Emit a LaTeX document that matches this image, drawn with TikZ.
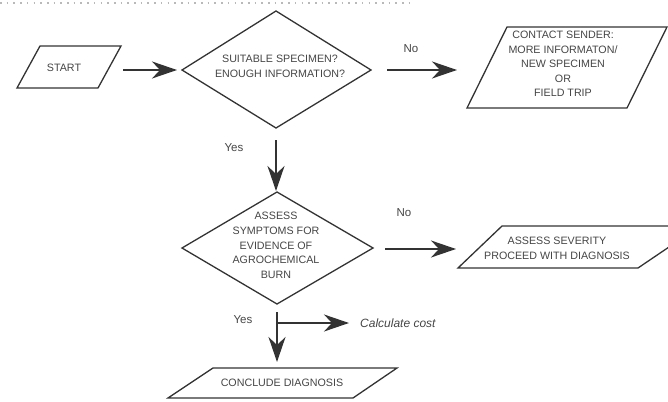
\documentclass[tikz,border=0pt]{standalone}
\usepackage{fontspec}
\setmainfont{Liberation Sans}
\usetikzlibrary{arrows.meta}
\definecolor{ink}{HTML}{333333}
\definecolor{txt}{HTML}{454545}
\tikzset{
  outline/.style={draw=ink, line width=1.3pt, line join=miter},
  flow/.style={draw=ink, line width=2pt,
    -{Stealth[length=25pt,width=17pt,inset=8pt]}},
  boxtext/.style={text=txt, align=center, inner sep=0pt,
    font=\fontsize{10.7}{14.6}\selectfont},
  label/.style={text=txt, inner sep=0pt, font=\fontsize{11.5}{13}\selectfont},
}
\begin{document}
\begin{tikzpicture}[x=1pt, y=-1pt]
\useasboundingbox (0,0) rectangle (668,401);
\clip (0,0) rectangle (668,401);

% dotted rule along the top
\draw[gray!55, line width=1.3pt, dash pattern=on 1.6pt off 5.1pt] (0,3) -- (414,3);

% START
\draw[outline] (17,88) -- (40,46) -- (121,46) -- (98,88) -- cycle;
\node[boxtext] (start) at (64,68) {START};
\coordinate (startE) at (123,70);

% first decision
\draw[outline] (182,70) -- (276,11) -- (371,70) -- (276,128) -- cycle;
\node[boxtext] (q1) at (280,66.5) {SUITABLE SPECIMEN?\\ENOUGH INFORMATION?};
\coordinate (q1W) at (177,70);
\coordinate (q1E) at (387,70);
\coordinate (q1S) at (276,140);

% contact sender
\draw[outline] (467,108) -- (507,27) -- (667,27) -- (627,108) -- cycle;
\node[boxtext] (contact) at (563,64)
  {CONTACT SENDER:\\MORE INFORMATON/\\NEW SPECIMEN\\OR\\FIELD TRIP};
\coordinate (contactW) at (457,70);

% second decision
\draw[outline] (182,248) -- (277,192) -- (373,248) -- (277,304) -- cycle;
\node[boxtext] (q2) at (276,245.5)
  {ASSESS\\SYMPTOMS FOR\\EVIDENCE OF\\AGROCHEMICAL\\BURN};
\coordinate (q2N) at (276,191);
\coordinate (q2E) at (385,249);
\coordinate (q2S) at (277,312);

% severity
\draw[outline] (458,268) -- (502,226) -- (700,226) -- (638,268) -- cycle;
\node[boxtext] (severity) at (557,248.5) {ASSESS SEVERITY\\PROCEED WITH DIAGNOSIS};
\coordinate (severityW) at (456,249);

% conclude
\draw[outline] (168,398) -- (213,368) -- (397,368) -- (353,398) -- cycle;
\node[boxtext] (conclude) at (282,383) {CONCLUDE DIAGNOSIS};
\coordinate (concludeN) at (277,362);

% cost branch
\coordinate (branch) at (277,323);
\node[label, anchor=west, font=\itshape\fontsize{12}{13}\selectfont] (cost) at (360,323) {Calculate cost};

% connectors
\draw[flow] (startE) -- (q1W);
\draw[flow] (q1E) -- (contactW);
\draw[flow] (q1S) -- (q2N);
\draw[flow] (q2E) -- (severityW);
\draw[flow] (q2S) -- (concludeN);
\draw[flow, shorten >=11pt] (branch) -- (cost.west);

% branch labels
\node[label] (no1) at (411,49) {No};
\node[label] (yes1) at (234,148) {Yes};
\node[label] (no2) at (404,213) {No};
\node[label] (yes2) at (243,320) {Yes};
\end{tikzpicture}
\end{document}
